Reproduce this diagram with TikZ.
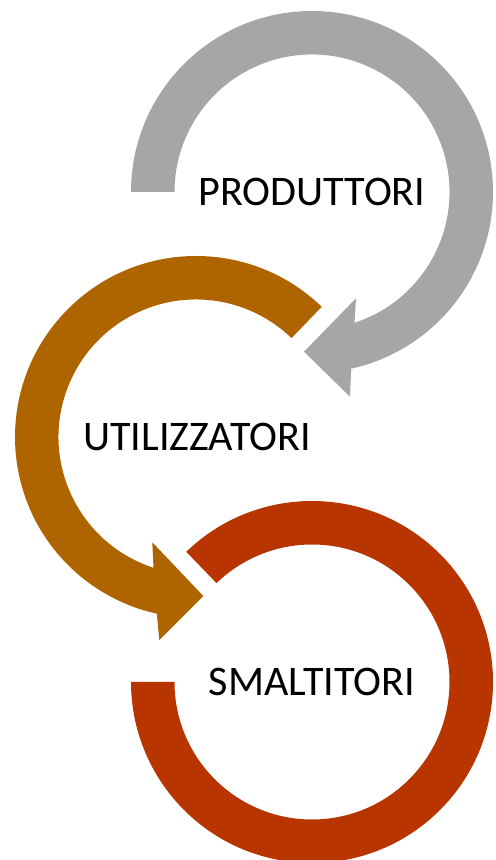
\documentclass[tikz,border=0pt]{standalone}
\usepackage{fontspec}
\setmainfont{Carlito}
\usetikzlibrary{calc}
\definecolor{cgray}{RGB}{166,166,166}
\definecolor{corange}{RGB}{174,101,0}
\definecolor{cred}{RGB}{184,53,0}
\tikzset{
  ring/.style={draw=none},
  lbl/.style={anchor=base, inner sep=0pt, font=\fontsize{31.6}{38}\selectfont, text=black}
}
\begin{document}
\begin{tikzpicture}[x=0.75pt,y=0.75pt]
\useasboundingbox (0,0) rectangle (496,860);
\def\Ro{181}
\def\Ri{137.5}
% centres
\coordinate (cg) at (312,668);
\coordinate (co) at (196,423);
\coordinate (cr) at (312,178);
% gray arrow (clockwise)
\fill[cgray,ring] ($(cg)+(180:\Ri)$) -- ($(cg)+(180:\Ro)$)
  arc[start angle=180,end angle=-77.5,radius=\Ro]
  -- (350,463.3) -- (304,508.3) -- (356,561.7)
  -- ($(cg)+(-72:\Ri)$)
  arc[start angle=-72,end angle=180,radius=\Ri] -- cycle;
% orange arrow (counter-clockwise)
\fill[corange,ring] ($(co)+(46:\Ri)$) -- ($(co)+(46:\Ro)$)
  arc[start angle=46,end angle=257.5,radius=\Ro]
  -- (159.3,220) -- (203.3,264) -- (152.3,317.7)
  -- ($(co)+(252:\Ri)$)
  arc[start angle=252,end angle=46,radius=\Ri] -- cycle;
% red ring (no head)
\fill[cred,ring] ($(cr)+(134:\Ri)$) -- ($(cr)+(134:\Ro)$)
  arc[start angle=134,end angle=-180,radius=\Ro]
  -- ($(cr)+(-180:\Ri)$)
  arc[start angle=-180,end angle=134,radius=\Ri] -- cycle;
% labels
\node[lbl] (prod) at ($(cg)+(0,-13.4)$) {PRODUTTORI};
\node[lbl] (util) at ($(co)+(1,-13.4)$) {UTILIZZATORI};
\node[lbl] (smal) at ($(cr)+(0,-13.4)$) {SMALTITORI};
\end{tikzpicture}
\end{document}
